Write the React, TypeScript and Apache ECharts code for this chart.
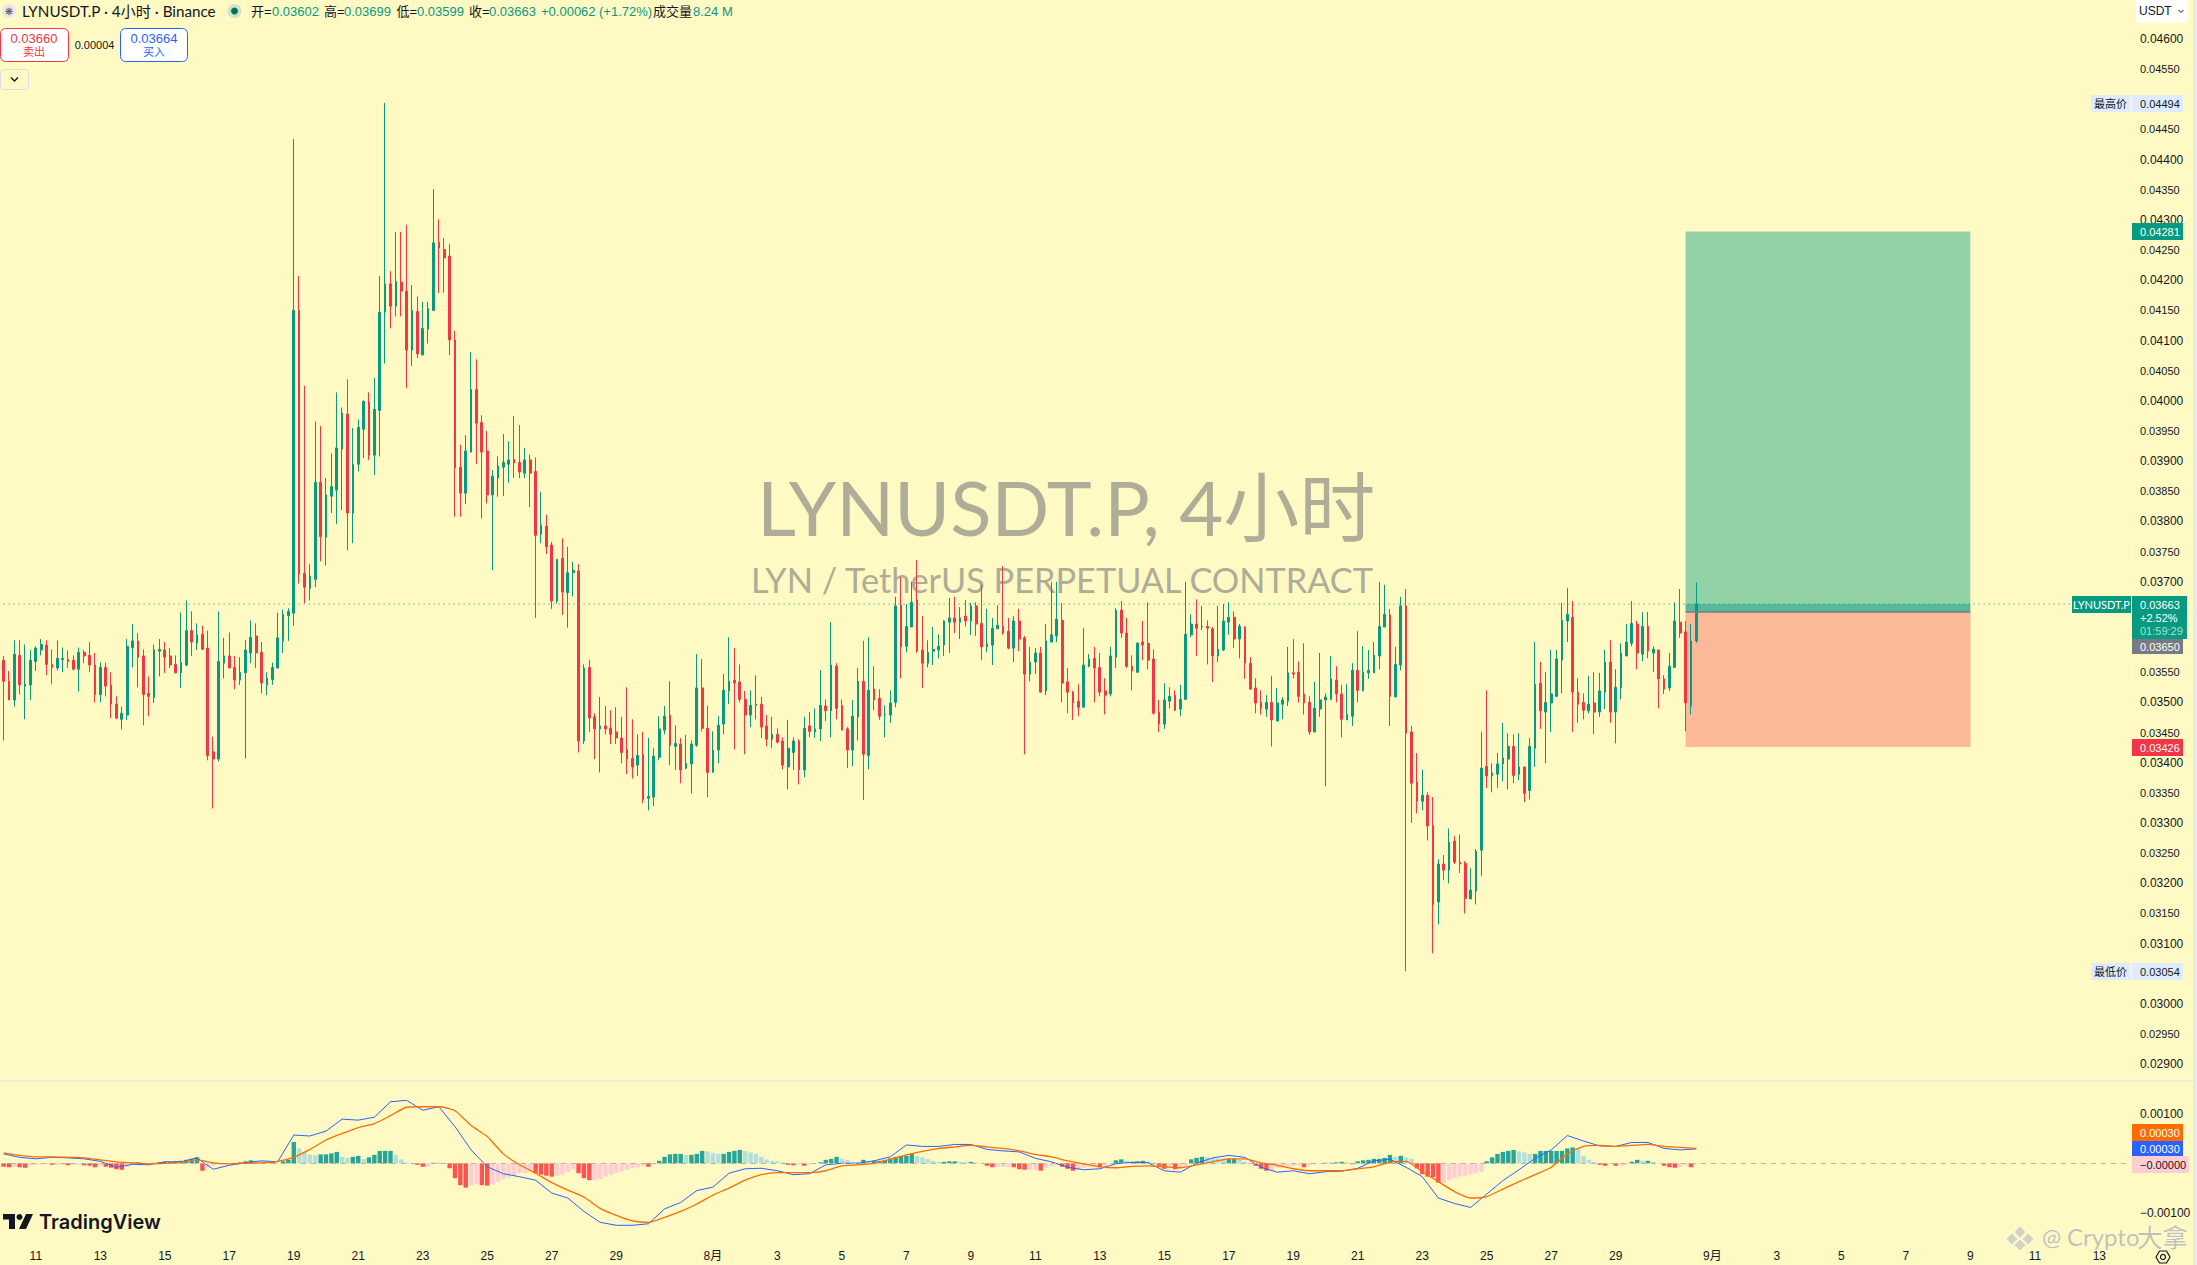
import React, { useEffect, useRef } from "react";
import * as echarts from "echarts";

// Candles, as [open, close, low, high] in units of 0.00001 USDT.
const barsJulyEarly = [
[3570,3535,3437,3577],[3535,3504,3504,3552],[3504,3580,3493,3603],[3578,3529,3513,3603],[3527,3530,3472,3596],[3529,3570,3504,3587],[3568,3590,3552,3593],[3587,3596,3578,3605],[3595,3563,3545,3603],[3563,3558,3530,3588],
[3557,3573,3553,3603],[3571,3573,3550,3591],[3571,3568,3557,3586],[3570,3555,3553,3578],[3555,3583,3518,3591],[3583,3577,3565,3587],[3578,3562,3550,3600],[3562,3513,3500,3582],[3513,3558,3500,3566],[3558,3527,3510,3566],
[3529,3497,3474,3550],[3497,3474,3472,3510],[3472,3482,3455,3493],[3479,3593,3471,3605],[3591,3602,3558,3630],[3602,3575,3525,3615],[3577,3513,3462,3588],[3515,3510,3477,3543],[3508,3587,3499,3596],[3585,3588,3543,3605],
[3587,3575,3549,3600],[3577,3562,3557,3590],[3563,3549,3549,3578],[3549,3566,3524,3649],[3562,3619,3560,3669],[3619,3600,3577,3651],[3598,3612,3587,3631],[3613,3588,3587,3627],[3590,3412,3404,3619],[3418,3406,3324,3443],
[3406,3568,3402,3651],[3565,3577,3540,3607],[3577,3557,3557,3616],[3558,3537,3522,3577],[3537,3550,3529,3575],[3549,3587,3407,3603],[3582,3608,3565,3636],[3610,3582,3557,3631],[3583,3532,3515,3600],[3529,3540,3512,3550],
[3538,3558,3529,3566],[3557,3607,3557,3649],[3602,3646,3582,3654],[3644,3651,3602,3656],
];
const barsJulyRally = [
[3648,4150,3627,4434],[4150,3713,3697,4207],[3714,3691,3664,4025],[3689,3709,3669,3729],[3704,3865,3691,3966],[3865,3775,3734,3958],[3774,3844,3727,3872],[3842,3858,3814,3913],[3852,3922,3796,4014],[3920,3980,3819,3989],
[3978,3814,3752,4036],[3814,3895,3764,3955],[3895,3956,3883,3969],[3953,3999,3905,4001],[3998,3910,3902,4014],[3910,3986,3877,4038],[3984,4147,3908,4207],[4147,4194,4062,4494],[4194,4157,4120,4215],[4157,4198,4140,4280],
[4197,4182,4140,4280],[4182,4084,4021,4292],[4084,4150,4058,4192],[4148,4078,4071,4173],[4076,4120,4076,4164],[4119,4153,4095,4164],[4150,4262,4150,4351],[4263,4253,4179,4301],[4251,4237,4179,4270],[4240,4101,4076,4260],
[4101,3889,3808,4116],[3890,3847,3808,3927],[3847,3917,3829,3943],[3915,4019,3915,4081],[4019,3963,3895,4069],[3964,3915,3805,3976],[3917,3844,3830,3950],[3844,3875,3719,3885],[3872,3892,3841,3908],[3890,3898,3842,3945],
[3895,3902,3864,3933],[3903,3897,3872,3975],[3898,3882,3872,3960],[3880,3902,3872,3922],[3902,3880,3824,3911],[3883,3777,3640,3906],[3779,3794,3764,3849],[3792,3758,3746,3811],[3761,3668,3655,3766],[3668,3737,3664,3738],
[3739,3683,3645,3772],[3682,3715,3624,3758],[3715,3719,3676,3733],[3718,3436,3417,3729],
];
const barsAugustEarly = [
[3436,3557,3431,3563],[3558,3474,3451,3570],[3476,3456,3406,3482],[3456,3461,3384,3509],[3461,3456,3447,3494],[3457,3447,3431,3487],[3451,3441,3431,3492],[3441,3417,3399,3476],[3422,3406,3381,3525],[3407,3393,3374,3472],
[3396,3412,3378,3447],[3414,3339,3333,3451],[3341,3344,3321,3441],[3343,3411,3328,3424],[3409,3456,3404,3477],[3454,3477,3447,3494],[3479,3429,3396,3535],[3427,3432,3388,3462],[3431,3388,3366,3441],[3391,3399,3389,3446],
[3398,3431,3349,3437],[3429,3524,3426,3580],[3524,3457,3452,3572],[3457,3384,3343,3495],[3384,3421,3384,3452],[3421,3462,3399,3477],[3464,3520,3447,3547],[3519,3535,3497,3608],[3537,3532,3422,3590],[3534,3505,3500,3563],
[3505,3479,3414,3519],[3479,3495,3459,3520],[3495,3497,3472,3545],[3497,3459,3441,3509],[3461,3439,3427,3479],[3439,3447,3424,3476],[3447,3434,3432,3457],[3436,3396,3389,3442],[3393,3424,3356,3471],[3417,3436,3388,3442],
[3436,3388,3364,3439],[3388,3457,3376,3476],[3461,3452,3442,3484],[3451,3456,3441,3490],[3456,3495,3436,3554],[3494,3486,3469,3505],[3486,3562,3442,3633],[3560,3490,3472,3565],[3495,3454,3454,3505],[3456,3421,3391,3459],
[3421,3477,3394,3504],[3476,3535,3437,3557],[3535,3414,3338,3602],[3412,3520,3389,3608],[3522,3504,3487,3560],[3507,3477,3471,3522],[3479,3480,3442,3495],[3479,3499,3466,3520],[3500,3660,3492,3675],[3661,3592,3540,3708],
[3593,3626,3583,3663],[3625,3666,3625,3700],[3670,3585,3582,3736],[3587,3565,3524,3643],[3565,3583,3558,3603],[3585,3588,3562,3625],[3587,3593,3573,3613],[3595,3635,3577,3636],[3633,3640,3582,3673],[3640,3633,3615,3675],
[3633,3640,3605,3658],[3643,3635,3626,3670],[3635,3660,3612,3665],[3660,3630,3610,3666],[3631,3592,3570,3695],[3592,3597,3583,3655],[3595,3623,3562,3640],[3622,3628,3622,3661],[3626,3615,3612,3726],[3618,3590,3588,3640],
[3590,3635,3567,3643],[3635,3605,3585,3655],[3607,3547,3414,3610],[3547,3567,3535,3592],[3567,3582,3547,3590],[3582,3517,3517,3592],[3519,3602,3512,3630],[3600,3612,3600,3700],[3610,3638,3600,3700],[3636,3532,3500,3665],
[3534,3517,3482,3557],[3517,3499,3471,3519],[3502,3492,3477,3530],[3492,3562,3492,3623],[3560,3572,3558,3580],[3573,3557,3500,3592],[3558,3517,3510,3582],[3519,3512,3480,3540],[3514,3577,3510,3592],[3575,3653,3557,3656],
];
const barsAugustLate = [
[3653,3615,3607,3668],[3615,3560,3557,3640],[3560,3552,3520,3578],[3550,3598,3549,3600],[3600,3595,3570,3635],[3598,3570,3555,3666],[3572,3482,3480,3588],[3484,3464,3451,3504],[3464,3504,3456,3532],[3502,3510,3490,3525],
[3512,3487,3486,3520],[3489,3505,3477,3529],[3505,3613,3505,3700],[3612,3630,3608,3646],[3630,3623,3577,3671],[3625,3626,3620,3660],[3626,3623,3563,3636],[3622,3577,3534,3625],[3577,3588,3567,3660],[3587,3635,3585,3663],
[3633,3641,3612,3666],[3641,3605,3590,3651],[3605,3626,3573,3630],[3625,3565,3539,3626],[3565,3522,3522,3575],[3524,3499,3482,3540],[3500,3490,3480,3520],[3489,3500,3476,3512],[3500,3471,3427,3544],[3469,3499,3469,3524],
[3497,3504,3472,3509],[3502,3549,3494,3592],[3549,3547,3540,3605],[3550,3510,3500,3568],[3514,3499,3480,3598],[3500,3451,3446,3510],[3451,3490,3451,3534],[3489,3504,3476,3582],[3504,3509,3361,3515],[3505,3539,3505,3577],
[3537,3514,3500,3560],[3514,3472,3442,3529],[3471,3480,3471,3530],[3477,3553,3461,3565],[3553,3520,3500,3618],[3519,3550,3519,3593],[3549,3553,3539,3587],[3549,3578,3549,3600],[3577,3626,3555,3700],[3625,3646,3625,3695],
[3645,3510,3461,3655],[3509,3563,3509,3592],[3562,3660,3553,3675],[3660,3449,3054,3688],[3451,3366,3300,3461],[3368,3336,3316,3416],[3336,3346,3321,3388],[3346,3295,3271,3351],[3296,3165,3084,3343],[3169,3232,3132,3240],
[3232,3222,3205,3247],[3222,3268,3200,3291],[3270,3235,3232,3278],[3235,3232,3217,3281],[3233,3175,3150,3237],[3174,3189,3174,3225],[3187,3253,3165,3257],[3255,3391,3212,3451],[3394,3378,3358,3520],[3378,3383,3351,3399],
[3381,3398,3358,3416],[3398,3408,3369,3466],[3406,3427,3356,3449],[3427,3379,3366,3447],[3381,3393,3371,3449],[3393,3349,3335,3393],[3354,3427,3339,3441],[3424,3530,3393,3600],[3532,3486,3456,3567],[3484,3500,3399,3550],
[3499,3514,3451,3587],[3510,3572,3509,3587],[3570,3636,3515,3665],[3635,3646,3600,3690],[3641,3517,3451,3668],[3517,3497,3466,3540],[3500,3487,3472,3515],[3486,3497,3482,3544],[3499,3484,3447,3550],[3484,3519,3476,3549],
[3517,3567,3489,3587],[3567,3484,3466,3603],[3484,3525,3432,3555],[3524,3582,3505,3598],[3577,3600,3577,3630],[3598,3631,3593,3668],[3630,3582,3555,3635],[3580,3626,3568,3650],[3626,3585,3573,3650],[3582,3588,3550,3593],
[3587,3539,3490,3587],[3539,3522,3514,3545],[3524,3560,3519,3582],[3558,3635,3558,3666],[3633,3615,3607,3688],[3617,3499,3452,3635],[3494,3602,3480,3630],[3602,3663,3599,3699],
];

// MACD readings every third bar, in units of 0.00001.
const macdEveryThirdBarFirstHalf = [19,12,9,12,11,9,4,-8,-2,-3,3,3,11,-12,-4,1,5,3,57,55,65,89,87,93,124,127,107,114,74,27,-7,-21,-27,-34,-60,-70,-97,-119,-125,-125,-122,-92,-79,-55,-48,-20,-11,-10,-15,-23,-21,-3,0,0,5,13,37,34,34,38,38,28];
const macdEveryThirdBarSecondHalf = [25,23,10,3,-8,-13,-11,-1,2,1,-15,-18,0,11,16,12,-8,-18,-15,-21,-17,-16,-10,5,8,-8,-27,-70,-81,-89,-62,-35,-13,10,27,56,45,35,34,42,42,30,27,29];
const signalEveryThirdBarFirstHalf = [21,16,13,13,12,11,7,3,1,-1,0,2,7,1,-1,0,1,4,12,28,47,60,72,80,96,113,114,114,106,76,54,19,-3,-20,-39,-54,-68,-91,-105,-116,-119,-109,-97,-82,-64,-50,-34,-23,-19,-19,-19,-15,-5,-3,0,8,17,24,30,33,36,33];
const signalEveryThirdBarSecondHalf = [30,25,18,13,5,-1,-7,-9,-6,-5,-7,-9,-3,3,9,9,1,-4,-11,-15,-15,-15,-11,-7,2,4,-17,-37,-57,-70,-67,-52,-37,-23,-8,19,34,36,34,36,38,34,32,30];

// MACD histogram per bar, in units of 0.00001.
const histJuly = [-7,-8,-7,-8,-9,-4,-3,-2,-2,-3,-3,-3,-4,-3,-3,-4,-5,-8,-4,-7,-9,-12,-13,-7,1,2,1,-1,1,2,3,3,4,5,7,9,12,-15,-9,-5,-2,-1,-1,1,2,4,6,5,4,3,3,1,4,7,
43,30,23,17,16,18,18,20,23,13,11,13,15,9,12,17,25,25,25,17,8,2,1,-3,-7,-7,1,1,-1,-10,-30,-44,-49,-45,-42,-44,-45,-42,-37,-32,-28,-25,-20,-19,-16,-20,-23,-25,-27,-25,-23,-17,-12,-20,-30,-34,-34,-32,-27,-23,-19,-16,-13,-10,-8,-5,-7,-1];
const histAugustEarly = [5,13,18,19,19,17,17,19,25,24,21,19,19,23,25,27,25,22,19,13,8,5,4,2,-3,-4,-3,-5,-2,0,2,7,9,13,9,7,3,2,7,3,5,5,7,10,13,15,15,19,15,12,8,5,3,3,4,4,3,2,3,2,0,-5,-8,-7];
const histAugustLate = [-7,-7,-8,-12,-13,-13,-13,-15,-9,-6,-3,-7,-11,-15,-13,-9,-7,-5,-8,-8,-1,6,8,5,4,4,5,4,1,-5,-11,-7,-12,-10,-5,8,11,13,12,11,10,9,9,9,7,3,-1,-5,-11,-15,-15,-9,-8,-7,-5,-5,-8,-4,-2,-1,1,1,2,3,2,-2,4,6,7,9,9,11,17,13,15,12,9,-10,-22,-27,-28,-39,-39,-34,-30,-27,-25,-23,-20,-17,4,12,19,23,25,27,24,22,19,19,25,25,25,25,25,30,32,31,15,7,3,-3,-5,-1,-5,-5,-3,3,7,5,5,3,1,-5,-8,-9,-7,-4,-8,-2];

// Time axis: [bar index, label].
const dayTicks: [number, string][] = [
  [6,"11"],[18,"13"],[30,"15"],[42,"17"],[54,"19"],[66,"21"],[78,"23"],[90,"25"],[102,"27"],[114,"29"],
  [132,"8月"],[144,"3"],[156,"5"],[168,"7"],[180,"9"],[192,"11"],[204,"13"],[216,"15"],[228,"17"],[240,"19"],
  [252,"21"],[264,"23"],[276,"25"],[288,"27"],[300,"29"],[318,"9月"],[330,"3"],[342,"5"],[354,"7"],[366,"9"],[378,"11"],[390,"13"],
];
const slotCount = 396;

// Prices
const lastClose = 0.03663;
const entryPrice = 0.0365;
const stopPrice = 0.03426;
const targetPrice = 0.04281;
const tradeStartBar = 313;
const tradeEndBar = 366;
const hiddenPriceTicks = ["0.04650","0.04500","0.03650","0.03600","0.03050","0.02850"];

const UP = "#089981";
const DOWN = "#f23645";
const BG = "#fff9c4";
const INK = "#131722";
const LATIN = '"Lato", "Noto Sans CJK SC", sans-serif';
const AXIS = '"Liberation Sans", "Noto Sans CJK SC", sans-serif';

const candles = [...barsJulyEarly, ...barsJulyRally, ...barsAugustEarly, ...barsAugustLate].map((r) => r.map((v) => v / 1e5));
const hist = [...histJuly, ...histAugustEarly, ...histAugustLate].map((v) => v / 1e5);
const toPairs = (vals: number[]) => vals.map((v, i) => [String(i * 3), v / 1e5]);
const macd = toPairs([...macdEveryThirdBarFirstHalf, ...macdEveryThirdBarSecondHalf]);
const signal = toPairs([...signalEveryThirdBarFirstHalf, ...signalEveryThirdBarSecondHalf]);
const slots = Array.from({ length: slotCount }, (_, i) => String(i));
const tickMap = new Map(dayTicks);

const histColor = (i: number) => {
  const v = hist[i];
  const prev = i > 0 ? hist[i - 1] : 0;
  if (v >= 0) return v >= prev ? "#26a69a" : "#b2dfdb";
  return v < prev ? "#ff5252" : "#ffcdd2";
};

const Z = 100;
const txt = (text: string, x: number, y: number, size: number, fill: string, align = "left", family = AXIS, weight = "normal") => ({
  type: "text", x, y, z: Z, silent: true,
  style: { text, fill, fontSize: size, fontFamily: family, fontWeight: weight, align, textAlign: align, verticalAlign: "middle", textVerticalAlign: "middle" },
});
const box = (x: number, y: number, w: number, h: number, fill: string, r: number | number[] = 0, stroke?: string) => ({
  type: "rect", z: Z, silent: true, shape: { x, y, width: w, height: h, r }, style: stroke ? { fill, stroke, lineWidth: 1 } : { fill },
});

const legend = [
  box(2193, 0, 4, 1265, "#e9e9e9"),
  { type: "line", z: Z, silent: true, shape: { x1: 0, y1: 1081, x2: 2193, y2: 1081 }, style: { stroke: "#e6e6dc", lineWidth: 1.5 } },
  { type: "circle", z: Z, silent: true, shape: { cx: 9, cy: 11, r: 7 }, style: { fill: "#e6e8ee" } },
  txt("❋", 9, 11, 10, "#4a4f6a", "center", '"DejaVu Sans"'),
  txt("LYNUSDT.P · 4小时 · Binance", 22, 11, 15.2, INK, "left", LATIN),
  { type: "circle", z: Z, silent: true, shape: { cx: 234.5, cy: 11, r: 7 }, style: { fill: "#cfe5c4" } },
  { type: "circle", z: Z, silent: true, shape: { cx: 234.5, cy: 11, r: 3.5 }, style: { fill: "#0a6f62" } },
  txt("开=", 251, 11, 13, INK, "left"), txt("0.03602", 272, 11, 13, UP),
  txt("高=", 324, 11, 13, INK), txt("0.03699", 344, 11, 13, UP),
  txt("低=", 396.5, 11, 13, INK), txt("0.03599", 417, 11, 13, UP),
  txt("收=", 469, 11, 13, INK), txt("0.03663", 489, 11, 13, UP),
  txt("+0.00062", 541, 11, 13, UP), txt("(+1.72%)", 599, 11, 13, UP),
  txt("成交量", 653, 11, 13, INK), txt("8.24 M", 693, 11, 13, UP),
  box(0.5, 28.5, 68, 33, "#ffffff", 5, DOWN),
  txt("0.03660", 34, 38, 13, DOWN, "center"), txt("卖出", 34, 52, 11, DOWN, "center"),
  txt("0.00004", 94.5, 45, 11, INK, "center"),
  box(120.5, 28.5, 67, 33, "#ffffff", 5, "#2962ff"),
  txt("0.03664", 154, 38, 13, "#2962ff", "center"), txt("买入", 154, 52, 11, "#2962ff", "center"),
  box(0.5, 69.5, 28, 20, BG, 3, "#dcdde2"),
  { type: "polyline", z: Z, silent: true, shape: { points: [[11, 77.5], [14.5, 81], [18, 77.5]] }, style: { stroke: INK, lineWidth: 1.4, fill: "none" } },
  box(2136, -3, 52, 26, "#ffffff", 4),
  txt("USDT", 2139, 11, 12, INK),
  { type: "polyline", z: Z, silent: true, shape: { points: [[2178.5, 10], [2181, 12.5], [2183.5, 10]] }, style: { stroke: INK, lineWidth: 1, fill: "none" } },
];

const priceTags = [
  box(2091, 95, 39.5, 17, "#dfecff"), txt("最高价", 2110.5, 103.5, 11, INK, "center"),
  box(2132, 95, 51, 17, "#dfecff"), txt("0.04494", 2140, 103.5, 11, INK),
  box(2132, 223, 51, 17, UP), txt("0.04281", 2140, 231.5, 11, "#ffffff"),
  box(2072, 596, 59, 17, UP), txt("LYNUSDT.P", 2101.5, 604.5, 11, "#ffffff", "center", LATIN),
  box(2132, 596, 55, 43, UP),
  txt("0.03663", 2140, 605, 11, "#ffffff"), txt("+2.52%", 2140, 618, 11, "#ffffff"), txt("01:59:29", 2140, 631, 11, "#a5e0d0"),
  box(2132, 639, 51, 15, "#787b86"), txt("0.03650", 2140, 646.5, 11, "#ffffff"),
  box(2132, 739, 51, 17, DOWN), txt("0.03426", 2140, 747.5, 11, "#ffffff"),
  box(2091, 963, 39.5, 17, "#dfecff"), txt("最低价", 2110.5, 971.5, 11, INK, "center"),
  box(2132, 963, 51, 17, "#dfecff"), txt("0.03054", 2140, 971.5, 11, INK),
  box(2132, 1124, 51, 17, "#ff6d00"), txt("0.00030", 2140, 1132.5, 11, "#ffffff"),
  box(2132, 1141, 51, 16, "#2962ff"), txt("0.00030", 2140, 1149, 11, "#ffffff"),
  box(2132, 1156, 57, 17, "#ffcdd2", [0, 3, 3, 0]), txt("−0.00000", 2140, 1165, 11, INK),
];

const markFill = "rgba(200,198,185,0.75)";
const markEdge = "rgba(255,255,255,0.7)";
const stamp = (text: string, x: number, size: number) => {
  const t = txt(text, x, 1236.5, size, "rgba(185,183,170,0.85)", "left", LATIN);
  (t.style as any).stroke = "rgba(255,255,255,0.55)";
  (t.style as any).lineWidth = 1;
  return t;
};
const brand = [
  { type: "polygon", z: Z, silent: true, shape: { points: [[3, 1214], [15, 1214], [15, 1229], [9, 1229], [9, 1219.5], [3, 1219.5]] }, style: { fill: INK } },
  { type: "circle", z: Z, silent: true, shape: { cx: 19.5, cy: 1217, r: 3 }, style: { fill: INK } },
  { type: "polygon", z: Z, silent: true, shape: { points: [[26, 1214], [33, 1214], [26, 1229], [19, 1229]] }, style: { fill: INK } },
  txt("TradingView", 39, 1222, 20, INK, "left", '"Inter", "Noto Sans", sans-serif', "600"),
  { type: "polygon", z: Z, silent: true, shape: { points: [[2020, 1226], [2026, 1232], [2020, 1238], [2014, 1232]] }, style: { fill: markFill, stroke: markEdge } },
  { type: "polygon", z: Z, silent: true, shape: { points: [[2020, 1239], [2026, 1245], [2020, 1251], [2014, 1245]] }, style: { fill: markFill, stroke: markEdge } },
  { type: "polygon", z: Z, silent: true, shape: { points: [[2012, 1233], [2018, 1239], [2012, 1245], [2006, 1239]] }, style: { fill: markFill, stroke: markEdge } },
  { type: "polygon", z: Z, silent: true, shape: { points: [[2028, 1233], [2034, 1239], [2028, 1245], [2022, 1239]] }, style: { fill: markFill, stroke: markEdge } },
  stamp("@", 2042, 23), stamp("Crypto", 2067, 24), stamp("大拿", 2137, 25.5),
  { type: "polygon", z: Z, silent: true, shape: { points: [[2156, 1257], [2159.5, 1251], [2166.5, 1251], [2170, 1257], [2166.5, 1263], [2159.5, 1263]] }, style: { fill: "none", stroke: INK, lineWidth: 1.2 } },
  { type: "circle", z: Z, silent: true, shape: { cx: 2163, cy: 1257, r: 2.5 }, style: { fill: "none", stroke: INK, lineWidth: 1.2 } },
];

const zoneRows = [
  [tradeStartBar, tradeEndBar, targetPrice, lastClose],
  [tradeStartBar, tradeEndBar, lastClose, entryPrice],
  [tradeStartBar, tradeEndBar, entryPrice, stopPrice],
];
const zoneFills = ["#93d2a6", "#57b999", "#fbb99a"];
const levelRows = [
  [tradeStartBar, tradeEndBar, entryPrice],
  [0, slotCount - 1, lastClose],
];
const levelStyles = [
  { stroke: "#787b86", lineWidth: 1.5 },
  { stroke: UP, lineWidth: 1, lineDash: [1, 4] },
];

const option: any = {
  animation: false,
  backgroundColor: BG,
  title: [
    { text: "LYNUSDT.P, 4小时", left: 757, top: 468, padding: 0, z: 0, textStyle: { fontFamily: LATIN, fontSize: 76, fontWeight: "normal", color: "#afac98" } },
    { text: "LYN / TetherUS PERPETUAL CONTRACT", left: 751, top: 562, padding: 0, z: 0, textStyle: { fontFamily: LATIN, fontSize: 34.3, fontWeight: "normal", color: "#afac98" } },
  ],
  grid: [
    { left: 0.9, width: 2128, top: 8.85, height: 1085.55 },
    { left: 0.9, width: 2128, top: 1064.1, height: 198.4 },
  ],
  xAxis: [
    { type: "category", gridIndex: 0, data: slots, show: false },
    {
      type: "category", gridIndex: 1, data: slots,
      axisLine: { show: false }, axisTick: { show: false }, splitLine: { show: false },
      axisLabel: {
        inside: true, margin: 1, hideOverlap: false, color: INK, fontSize: 12, fontFamily: AXIS,
        interval: (i: number) => tickMap.has(i),
        formatter: (_: string, i: number) => tickMap.get(i) ?? "",
      },
    },
  ],
  yAxis: [
    {
      type: "value", gridIndex: 0, position: "right", min: 0.0285, max: 0.0465, interval: 0.0005,
      axisLine: { show: false }, axisTick: { show: false }, splitLine: { show: false },
      axisLabel: {
        margin: 11, color: INK, fontSize: 11, fontFamily: AXIS,
        rich: { major: { fontSize: 12, fontFamily: AXIS, color: INK }, minor: { fontSize: 11, fontFamily: AXIS, color: INK } },
        formatter: (v: number) => {
          const s = v.toFixed(5);
          if (hiddenPriceTicks.includes(s)) return "";
          return s.endsWith("00") ? `{major|${s}}` : `{minor|${s}}`;
        },
      },
    },
    {
      type: "value", gridIndex: 1, position: "right", min: -0.002, max: 0.002, interval: 0.001,
      axisLine: { show: false }, axisTick: { show: false }, splitLine: { show: false },
      axisLabel: {
        margin: 11, color: INK, fontSize: 12, fontFamily: AXIS,
        formatter: (v: number) => (Math.abs(Math.abs(v) - 0.001) < 1e-7 ? (v < 0 ? "−" : "") + Math.abs(v).toFixed(5) : ""),
      },
    },
  ],
  series: [
    {
      type: "custom", xAxisIndex: 0, yAxisIndex: 0, z: 1, silent: true, clip: false,
      data: zoneRows, encode: { x: [0, 1], y: [2, 3] },
      renderItem: (p: any, api: any) => {
        const a = api.coord([api.value(0), api.value(2)]);
        const b = api.coord([api.value(1), api.value(3)]);
        const rect = { x: a[0], y: a[1], width: b[0] - a[0], height: b[1] - a[1] };
        return { type: "rect", shape: rect, style: { fill: zoneFills[p.dataIndex] } };
      },
    },
    {
      type: "candlestick", xAxisIndex: 0, yAxisIndex: 0, z: 3, silent: true,
      barWidth: 2.2, data: candles,
      itemStyle: { color: UP, color0: DOWN, borderColor: UP, borderColor0: DOWN, borderWidth: 1 },
    },
    {
      type: "custom", xAxisIndex: 0, yAxisIndex: 0, z: 4, silent: true, clip: false,
      data: levelRows, encode: { x: [0, 1], y: 2 },
      renderItem: (p: any, api: any) => {
        const a = api.coord([api.value(0), api.value(2)]);
        const b = api.coord([api.value(1), api.value(2)]);
        return { type: "line", shape: { x1: a[0], y1: a[1], x2: b[0], y2: b[1] }, style: levelStyles[p.dataIndex] };
      },
    },
    {
      type: "bar", xAxisIndex: 1, yAxisIndex: 1, z: 2, silent: true, barWidth: 4.4,
      data: hist, itemStyle: { color: (p: any) => histColor(p.dataIndex) },
      markLine: {
        silent: true, symbol: "none", animation: false, label: { show: false },
        lineStyle: { color: "#b5b5a5", type: [5, 5], width: 1, opacity: 1 },
        data: [{ yAxis: 0 }],
      },
    },
    { type: "line", xAxisIndex: 1, yAxisIndex: 1, z: 4, silent: true, symbol: "none", data: macd, lineStyle: { color: "#2962ff", width: 1 } },
    { type: "line", xAxisIndex: 1, yAxisIndex: 1, z: 5, silent: true, symbol: "none", smooth: 0.2, data: signal, lineStyle: { color: "#ff6d00", width: 1.3 } },
  ],
  graphic: { elements: [...priceTags, ...legend, ...brand] },
};

export default function App() {
  const ref = useRef<HTMLDivElement>(null);
  useEffect(() => {
    document.body.style.margin = "0";
    const chart = echarts.init(ref.current!, undefined, { renderer: "svg" });
    chart.setOption(option);
    return () => chart.dispose();
  }, []);
  return <div ref={ref} style={{ position: "fixed", left: 0, top: 0, width: 2197, height: 1265 }} />;
}
